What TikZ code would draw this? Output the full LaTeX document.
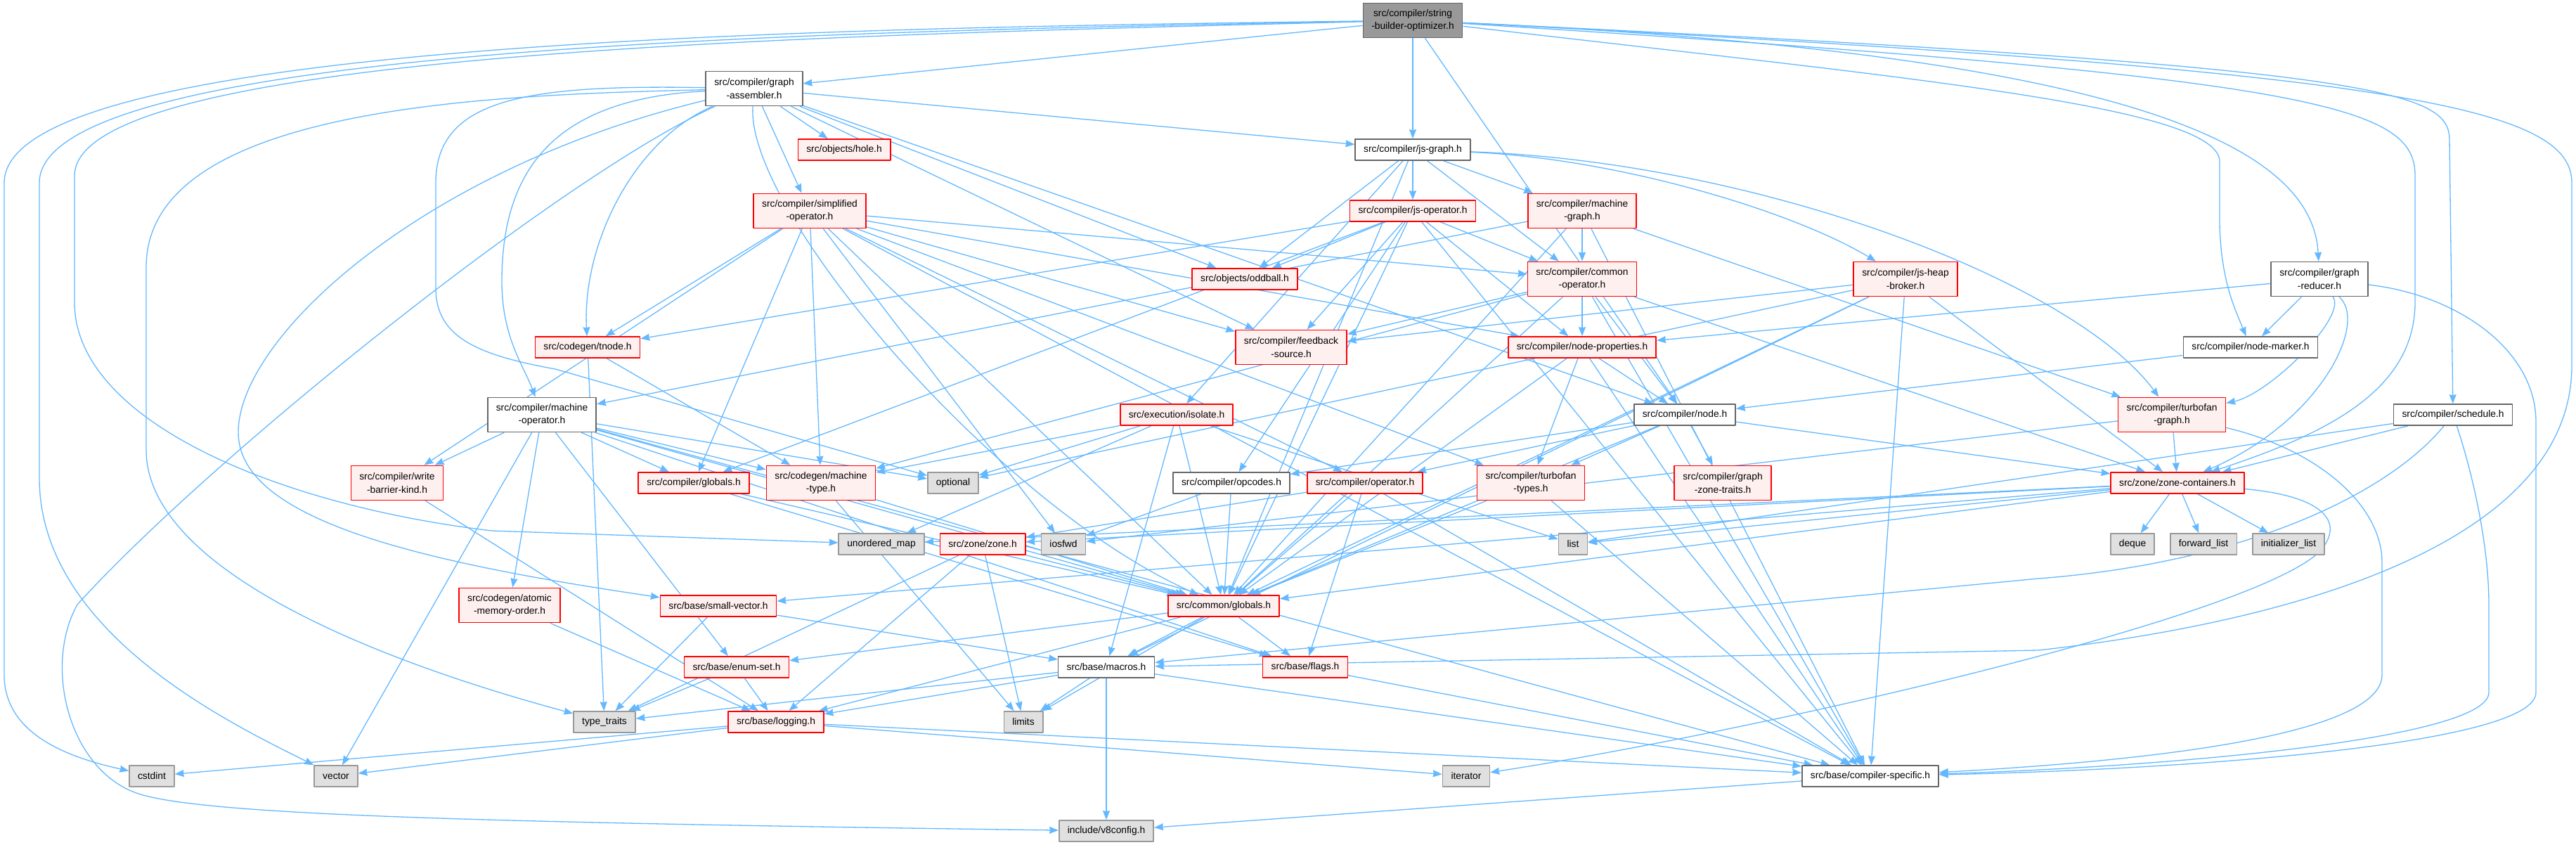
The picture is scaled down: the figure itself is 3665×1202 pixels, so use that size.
\documentclass[tikz,border=0pt]{standalone}
\usepackage{fontspec}
\setmainfont{Liberation Sans}
\usepackage{tikz}
\usetikzlibrary{arrows.meta}
\definecolor{depblue}{HTML}{63B8FF}
\definecolor{redfill}{HTML}{FFF0F0}
\definecolor{sysfill}{HTML}{E0E0E0}
\definecolor{sysline}{HTML}{999999}
\definecolor{plainline}{HTML}{666666}
\definecolor{rootfill}{HTML}{999999}
\pgfdeclarelayer{deps}
\pgfsetlayers{deps,main}
\tikzset{
  every picture/.style={line join=round, >={Stealth[length=13pt,width=10pt,inset=1pt]}},
  hdr/.style={rectangle, line width=1.6pt, inner xsep=12pt, inner ysep=2pt,
    minimum height=30pt, align=center, font=\fontsize{13.8}{18.5}\selectfont},
  plainhdr/.style={hdr, draw=plainline, fill=white},
  redhdr/.style={hdr, draw=red, fill=redfill},
  syshdr/.style={hdr, draw=sysline, fill=sysfill},
  roothdr/.style={hdr, draw=plainline, fill=rootfill},
  twoline/.style={minimum height=49pt},
  dep/.style={draw=depblue, line width=1.3pt, ->},
}

\begin{document}
\begin{tikzpicture}[x=1pt,y=-1pt]
\useasboundingbox (0,0) rectangle (3665,1202);
% headers
\node[roothdr, twoline] (sbo) at (2010,29) {src/compiler/string\\-builder-optimizer.h};
\node[plainhdr, twoline] (ga) at (1073,126) {src/compiler/graph\\-assembler.h};
\node[redhdr] (hole) at (1201,213) {src/objects/hole.h};
\node[plainhdr] (jsg) at (2010,213) {src/compiler/js-graph.h};
\node[redhdr, twoline] (simp) at (1152,300) {src/compiler/simplified\\-operator.h};
\node[redhdr] (jsop) at (2010,300) {src/compiler/js-operator.h};
\node[redhdr, twoline] (mg) at (2251,300) {src/compiler/machine\\-graph.h};
\node[redhdr] (odd) at (1771,397) {src/objects/oddball.h};
\node[redhdr, twoline] (co) at (2251,397) {src/compiler/common\\-operator.h};
\node[redhdr, twoline] (jhb) at (2711,397) {src/compiler/js-heap\\-broker.h};
\node[plainhdr, twoline] (gr) at (3300,397) {src/compiler/graph\\-reducer.h};
\node[redhdr] (tnode) at (836,494) {src/codegen/tnode.h};
\node[redhdr, twoline] (fb) at (1837,494) {src/compiler/feedback\\-source.h};
\node[redhdr] (np) at (2251,494) {src/compiler/node-properties.h};
\node[plainhdr] (nm) at (3202,494) {src/compiler/node-marker.h};
\node[plainhdr, twoline] (mo) at (771,590) {src/compiler/machine\\-operator.h};
\node[redhdr] (iso) at (1674,590) {src/execution/isolate.h};
\node[plainhdr] (node) at (2397,590) {src/compiler/node.h};
\node[redhdr, twoline] (tg) at (3090,590) {src/compiler/turbofan\\-graph.h};
\node[plainhdr] (sch) at (3490,590) {src/compiler/schedule.h};
\node[redhdr, twoline] (wbk) at (565,687) {src/compiler/write\\-barrier-kind.h};
\node[redhdr] (cglob) at (987,687) {src/compiler/globals.h};
\node[redhdr, twoline] (mt) at (1168,687) {src/codegen/machine\\-type.h};
\node[syshdr] (opt) at (1356,687) {optional};
\node[plainhdr] (opc) at (1752,687) {src/compiler/opcodes.h};
\node[redhdr] (op) at (1942,687) {src/compiler/operator.h};
\node[redhdr, twoline] (tt) at (2178,687) {src/compiler/turbofan\\-types.h};
\node[redhdr, twoline] (gzt) at (2451,687) {src/compiler/graph\\-zone-traits.h};
\node[redhdr] (zc) at (3098,687) {src/zone/zone-containers.h};
\node[syshdr] (umap) at (1254,774) {unordered\_map};
\node[redhdr] (zone) at (1398,774) {src/zone/zone.h};
\node[syshdr] (iosfwd) at (1513,774) {iosfwd};
\node[syshdr] (list) at (2238,774) {list};
\node[syshdr] (deque) at (3034,774) {deque};
\node[syshdr] (fwd) at (3135,774) {forward\_list};
\node[syshdr] (il) at (3256,774) {initializer\_list};
\node[redhdr, twoline] (amo) at (725,861) {src/codegen/atomic\\-memory-order.h};
\node[redhdr] (sv) at (1022,862) {src/base/small-vector.h};
\node[redhdr] (glob) at (1741,862) {src/common/globals.h};
\node[redhdr] (es) at (1048,949) {src/base/enum-set.h};
\node[plainhdr] (mac) at (1574,949) {src/base/macros.h};
\node[redhdr] (flags) at (1857,949) {src/base/flags.h};
\node[syshdr] (ttr) at (860,1027) {type\_traits};
\node[redhdr] (log) at (1104,1027) {src/base/logging.h};
\node[syshdr] (lim) at (1456,1027) {limits};
\node[syshdr] (cstdint) at (216,1104) {cstdint};
\node[syshdr] (vec) at (478,1104) {vector};
\node[syshdr] (iter) at (2086,1104) {iterator};
\node[plainhdr] (cs) at (2661,1104) {src/base/compiler-specific.h};
\node[syshdr] (v8c) at (1574,1182) {include/v8config.h};

\begin{pgfonlayer}{deps}
% includes of the root file
\draw[dep] (sbo) -- (ga);
\draw[dep] (sbo) -- (jsg);
\draw[dep] (sbo) -- (node);
\draw[dep] (sbo) .. controls (2700,110) and (3158,150) .. (3158,230) -- (3158,320) .. controls (3160,400) and (3180,440) .. (nm);
\draw[dep] (sbo) .. controls (3000,75) and (3290,200) .. (gr);
\draw[dep] (sbo) .. controls (3300,110) and (3436,150) .. (3436,250) -- (3436,430) .. controls (3436,560) and (3300,620) .. (zc);
\draw[dep] (sbo) .. controls (3400,95) and (3485,130) .. (3485,200) -- (sch);
\draw[dep] (sbo) .. controls (3400,100) and (3659,150) .. (3659,260) -- (3659,520) .. controls (3659,760) and (3300,880) .. (2900,925) -- (mac);
\draw[dep] (sbo) .. controls (1200,40) and (6,55) .. (6,260) -- (6,960) .. controls (6,1050) and (110,1080) .. (cstdint);
\draw[dep] (sbo) .. controls (1200,45) and (56,62) .. (56,260) -- (56,680) .. controls (56,900) and (330,1030) .. (vec);
\draw[dep] (sbo) .. controls (1200,50) and (106,70) .. (106,250) -- (106,430) .. controls (106,600) and (400,720) .. (700,755) -- (umap);
% graph-assembler
\draw[dep] (ga) -- (hole);
\draw[dep] (ga) -- (simp);
\draw[dep] (ga) -- (jsg);
\draw[dep] (ga) .. controls (900,200) and (828,350) .. (tnode);
\draw[dep] (ga) -- (odd);
\draw[dep] (ga) -- (fb);
\draw[dep] (ga) -- (node);
\draw[dep] (ga) .. controls (1060,300) and (1420,720) .. (glob);
\draw[dep] (ga) .. controls (750,120) and (620,140) .. (620,260) -- (620,410) .. controls (620,480) and (680,505) .. (790,525) -- (opt);
\draw[dep] (ga) .. controls (700,135) and (208,150) .. (208,380) -- (208,640) .. controls (208,800) and (500,930) .. (ttr);
\draw[dep] (ga) .. controls (800,250) and (300,650) .. (110,860) .. controls (60,950) and (100,1100) .. (200,1130) .. controls (300,1160) and (700,1170) .. (v8c);
\draw[dep] (ga) .. controls (600,240) and (339,480) .. (339,615) .. controls (339,740) and (600,800) .. (sv);
\draw[dep] (ga) .. controls (800,140) and (714,230) .. (714,400) .. controls (714,480) and (745,520) .. (mo);
% js-graph
\draw[dep] (jsg) -- (jsop);
\draw[dep] (jsg) -- (mg);
\draw[dep] (jsg) -- (odd);
\draw[dep] (jsg) -- (co);
\draw[dep] (jsg) -- (iso);
\draw[dep] (jsg) .. controls (2300,225) and (2550,300) .. (jhb);
\draw[dep] (jsg) .. controls (2500,230) and (2950,400) .. (tg);
\draw[dep] (jsg) -- (glob);
% simplified-operator
\draw[dep] (simp) -- (tnode);
\draw[dep] (simp) -- (mt);
\draw[dep] (simp) -- (cglob);
\draw[dep] (simp) -- (wbk);
\draw[dep] (simp) -- (co);
\draw[dep] (simp) -- (fb);
\draw[dep] (simp) -- (np);
\draw[dep] (simp) -- (op);
\draw[dep] (simp) -- (tt);
\draw[dep] (simp) -- (iosfwd);
\draw[dep] (simp) -- (glob);
\draw[dep] (simp) -- (cs);
% js-operator
\draw[dep] (jsop) -- (odd);
\draw[dep] (jsop) -- (co);
\draw[dep] (jsop) -- (fb);
\draw[dep] (jsop) -- (np);
\draw[dep] (jsop) -- (tnode);
\draw[dep] (jsop) -- (cglob);
\draw[dep] (jsop) -- (opc);
\draw[dep] (jsop) -- (glob);
\draw[dep] (jsop) -- (cs);
% machine-graph
\draw[dep] (mg) -- (co);
\draw[dep] (mg) -- (tg);
\draw[dep] (mg) -- (mo);
\draw[dep] (mg) -- (glob);
\draw[dep] (mg) -- (cs);
% common-operator
\draw[dep] (co) -- (np);
\draw[dep] (co) -- (fb);
\draw[dep] (co) -- (node);
\draw[dep] (co) -- (mt);
\draw[dep] (co) -- (zc);
\draw[dep] (co) -- (glob);
\draw[dep] (co) -- (cs);
% js-heap-broker
\draw[dep] (jhb) -- (fb);
\draw[dep] (jhb) -- (opt);
\draw[dep] (jhb) -- (zc);
\draw[dep] (jhb) -- (cs);
\draw[dep] (jhb) -- (glob);
\draw[dep] (jhb) -- (mac);
% graph-reducer
\draw[dep] (gr) -- (nm);
\draw[dep] (gr) -- (np);
\draw[dep] (gr) .. controls (3340,450) and (3230,560) .. (tg);
\draw[dep] (gr) .. controls (3370,460) and (3300,600) .. (zc);
\draw[dep] (gr) .. controls (3500,420) and (3608,500) .. (3608,600) -- (3608,985) .. controls (3608,1060) and (3100,1095) .. (cs);
% middle rows
\draw[dep] (tnode) -- (mt);
\draw[dep] (tnode) -- (ttr);
\draw[dep] (np) -- (node);
\draw[dep] (np) -- (tt);
\draw[dep] (np) -- (glob);
\draw[dep] (np) -- (cs);
\draw[dep] (nm) -- (node);
\draw[dep] (mo) -- (wbk);
\draw[dep] (mo) -- (cglob);
\draw[dep] (mo) -- (mt);
\draw[dep] (mo) -- (opt);
\draw[dep] (mo) -- (amo);
\draw[dep] (mo) -- (es);
\draw[dep] (mo) -- (flags);
\draw[dep] (mo) -- (glob);
\draw[dep] (mo) -- (cs);
\draw[dep] (mo) -- (vec);
\draw[dep] (iso) -- (opt);
\draw[dep] (iso) -- (mt);
\draw[dep] (iso) -- (umap);
\draw[dep] (iso) -- (glob);
\draw[dep] (iso) -- (mac);
\draw[dep] (iso) -- (list);
\draw[dep] (node) -- (opc);
\draw[dep] (node) -- (op);
\draw[dep] (node) -- (tt);
\draw[dep] (node) -- (gzt);
\draw[dep] (node) -- (zc);
\draw[dep] (node) -- (glob);
\draw[dep] (tg) -- (zc);
\draw[dep] (tg) -- (iosfwd);
\draw[dep] (tg) .. controls (3300,640) and (3389,720) .. (3389,800) -- (3389,960) .. controls (3389,1040) and (3100,1080) .. (cs);
\draw[dep] (sch) -- (zc);
\draw[dep] (sch) -- (list);
\draw[dep] (sch) .. controls (3400,700) and (3200,800) .. (2900,823) -- (mac);
\draw[dep] (sch) .. controls (3520,680) and (3541,780) .. (3541,860) -- (3541,985) .. controls (3541,1050) and (3100,1090) .. (cs);
\draw[dep] (zc) -- (deque);
\draw[dep] (zc) -- (fwd);
\draw[dep] (zc) -- (il);
\draw[dep] (zc) -- (list);
\draw[dep] (zc) -- (umap);
\draw[dep] (zc) -- (zone);
\draw[dep] (zc) -- (sv);
\draw[dep] (zc) -- (glob);
\draw[dep] (zc) .. controls (3300,705) and (3340,740) .. (3300,785) .. controls (3200,880) and (2500,1040) .. (iter);
\draw[dep] (wbk) -- (log);
\draw[dep] (cglob) -- (glob);
\draw[dep] (cglob) -- (flags);
\draw[dep] (mt) -- (glob);
\draw[dep] (mt) -- (lim);
\draw[dep] (opc) -- (iosfwd);
\draw[dep] (opc) -- (glob);
\draw[dep] (op) -- (zone);
\draw[dep] (op) -- (glob);
\draw[dep] (op) -- (flags);
\draw[dep] (op) -- (cs);
\draw[dep] (tt) -- (glob);
\draw[dep] (tt) -- (cs);
% base headers
\draw[dep] (zone) -- (lim);
\draw[dep] (zone) -- (log);
\draw[dep] (zone) -- (glob);
\draw[dep] (zone) -- (ttr);
\draw[dep] (amo) -- (log);
\draw[dep] (sv) -- (ttr);
\draw[dep] (sv) -- (mac);
\draw[dep] (glob) -- (mac);
\draw[dep] (glob) -- (flags);
\draw[dep] (glob) -- (lim);
\draw[dep] (glob) -- (es);
\draw[dep] (glob) -- (log);
\draw[dep] (es) -- (ttr);
\draw[dep] (es) -- (log);
\draw[dep] (mac) -- (lim);
\draw[dep] (mac) -- (v8c);
\draw[dep] (mac) -- (log);
\draw[dep] (mac) -- (ttr);
\draw[dep] (mac) -- (cs);
\draw[dep] (flags) -- (cs);
\draw[dep] (log) -- (cstdint);
\draw[dep] (log) -- (vec);
\draw[dep] (log) -- (cs);
\draw[dep] (log) -- (iter);
\draw[dep] (cs) -- (v8c);
\end{pgfonlayer}
\end{tikzpicture}
\end{document}
